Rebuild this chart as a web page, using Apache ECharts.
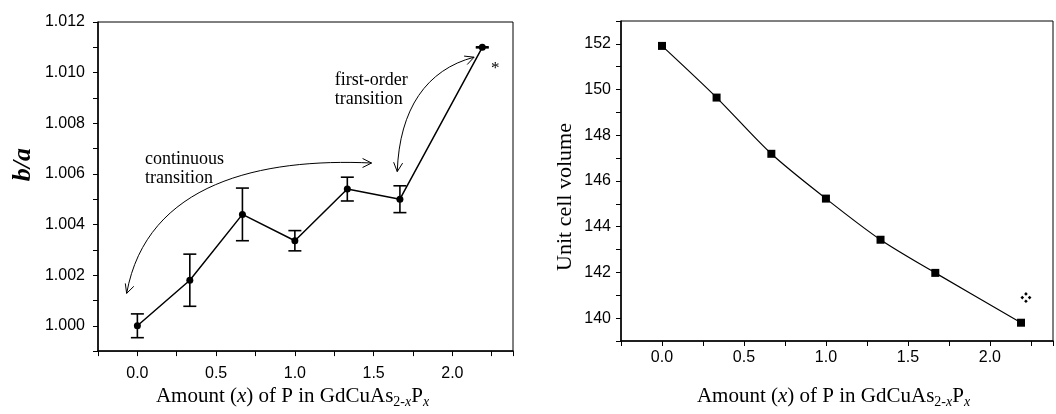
<!DOCTYPE html>
<html>
<head>
<meta charset="utf-8">
<script src="https://cdn.jsdelivr.net/npm/echarts@6/dist/echarts.min.js"></script>
<style>
  html, body { margin: 0; padding: 0; background: #fff; }
  #chart { width: 1056px; height: 414px; }
</style>
</head>
<body>
<div id="chart"></div>
<script>
// x = amount of P in GdCuAs(2-x)P(x)
var xVals = [0, 0.333, 0.667, 1.0, 1.333, 1.667, 2.19];
// b/a ratio and its error (half width)
var ratioVals = [1.0000, 1.0018, 1.0044, 1.00336, 1.0054, 1.0050, 1.0110];
var ratioErr = [0.00047, 0.00103, 0.00104, 0.0004, 0.00047, 0.00053, 0.00002];
// unit cell volume
var volumeVals = [151.91, 149.65, 147.19, 145.23, 143.43, 141.98, 139.80];
// curved double arrows in the left panel: start, control 1, control 2, end
var arrowCurves = [
    [-0.068, 1.00128, 0.059, 1.00566, 0.789, 1.00663, 1.487, 1.00643],
    [1.650, 1.00609, 1.664, 1.00857, 1.836, 1.01012, 2.138, 1.01061]
];

var serif = "'Liberation Serif', 'Times New Roman', serif";
var sans = "'Liberation Sans', Arial, sans-serif";
var clover = 'path://M6,0 L8,2 L6,4 L4,2 Z M2,4 L4,6 L2,8 L0,6 Z M10,4 L12,6 L10,8 L8,6 Z M6,8 L8,10 L6,12 L4,10 Z';

var ratioData = xVals.map(function (x, i) { return [x, ratioVals[i]]; });
var errData = xVals.map(function (x, i) { return [x, ratioVals[i] - ratioErr[i], ratioVals[i] + ratioErr[i]]; });
var volumeData = xVals.map(function (x, i) { return [x, volumeVals[i]]; });

// only label every other tick (major ticks)
function evenLabel(step, digits) {
    return function (v) {
        var k = Math.round(v / step);
        if (Math.abs(v / step - k) > 1e-6) return '';
        return k % 2 === 0 ? v.toFixed(digits) : '';
    };
}

var xName = '{n|Amount (}{i|x}{n|) of P in GdCuAs}{s|2-}{si|x}{n|P}{si|x}';
function xNameStyle(padding) {
    return {
        padding: padding,
        rich: {
            n: { fontFamily: serif, fontSize: 21, color: '#000', lineHeight: 23, verticalAlign: 'top' },
            i: { fontFamily: serif, fontSize: 21, fontStyle: 'italic', color: '#000', lineHeight: 23, verticalAlign: 'top' },
            s: { fontFamily: serif, fontSize: 14, color: '#000', lineHeight: 23, verticalAlign: 'bottom' },
            si: { fontFamily: serif, fontSize: 14, fontStyle: 'italic', color: '#000', lineHeight: 23, verticalAlign: 'bottom' }
        }
    };
}

function xAxisOf(gridIndex, nameGap, labelMargin, namePadding) {
    return {
        type: 'value', gridIndex: gridIndex,
        min: -0.25, max: 2.385, interval: 0.25,
        name: xName, nameLocation: 'middle', nameGap: nameGap,
        nameTextStyle: xNameStyle(namePadding),
        axisLine: { onZero: false, lineStyle: { color: '#000', width: 1.5 } },
        axisTick: { inside: false, length: 5, lineStyle: { color: '#000', width: 1 } },
        axisLabel: { margin: labelMargin, fontFamily: sans, fontSize: 16, color: '#000', formatter: evenLabel(0.25, 1) },
        splitLine: { show: false }
    };
}

// point on cubic bezier
function bez(p0, c1, c2, p3, t) {
    var u = 1 - t;
    return [
        u * u * u * p0[0] + 3 * u * u * t * c1[0] + 3 * u * t * t * c2[0] + t * t * t * p3[0],
        u * u * u * p0[1] + 3 * u * u * t * c1[1] + 3 * u * t * t * c2[1] + t * t * t * p3[1]
    ];
}
// open arrow head: tip at p, coming from q
function headPoints(p, q) {
    var L = 9, W = 4.5;
    var dx = p[0] - q[0], dy = p[1] - q[1];
    var len = Math.sqrt(dx * dx + dy * dy) || 1;
    var d = [dx / len, dy / len];
    var n = [-d[1], d[0]];
    return [
        [p[0] - L * d[0] + W * n[0], p[1] - L * d[1] + W * n[1]],
        [p[0], p[1]],
        [p[0] - L * d[0] - W * n[0], p[1] - L * d[1] - W * n[1]]
    ];
}

var chart = echarts.init(document.getElementById('chart'));

var option = {
    animation: false,
    backgroundColor: '#fff',
    grid: [
        { left: 98, top: 22, width: 415, height: 335, show: true, borderColor: '#000', borderWidth: 1 },
        { left: 621, top: 21, width: 436, height: 328, show: true, borderColor: '#000', borderWidth: 1 }
    ],
    xAxis: [
        xAxisOf(0, 33, 14, [0, 26, 0, 0]),
        xAxisOf(1, 45, 9, [0, 7, 0, 0])
    ],
    yAxis: [
        {
            type: 'value', gridIndex: 0,
            min: 0.999, max: 1.012, interval: 0.001,
            name: 'b/a', nameLocation: 'middle', nameGap: 62,
            nameTextStyle: { fontFamily: serif, fontSize: 26, fontStyle: 'italic', fontWeight: 'bold', color: '#000', padding: [0, 0, 0, 44] },
            axisLine: { onZero: false, lineStyle: { color: '#000', width: 1.5 } },
            axisTick: { inside: false, length: 5, lineStyle: { color: '#000', width: 1 } },
            axisLabel: { margin: 13, fontFamily: sans, fontSize: 16, color: '#000', formatter: evenLabel(0.001, 3) },
            splitLine: { show: false }
        },
        {
            type: 'value', gridIndex: 1,
            min: 139, max: 153, interval: 1,
            name: 'Unit cell volume', nameLocation: 'middle', nameGap: 45,
            nameTextStyle: { fontFamily: serif, fontSize: 22, color: '#000', padding: [0, 32, 0, 0] },
            axisLine: { onZero: false, lineStyle: { color: '#000', width: 1.5 } },
            axisTick: { inside: false, length: 5, lineStyle: { color: '#000', width: 1 } },
            axisLabel: { margin: 10, fontFamily: sans, fontSize: 16, color: '#000', formatter: evenLabel(1, 0) },
            splitLine: { show: false }
        }
    ],
    series: [
        {
            name: 'arrows', type: 'custom', xAxisIndex: 0, yAxisIndex: 0,
            silent: true,
            encode: { x: [0, 6], y: [1, 7] },
            data: arrowCurves,
            renderItem: function (params, api) {
                var p0 = api.coord([api.value(0), api.value(1)]);
                var c1 = api.coord([api.value(2), api.value(3)]);
                var c2 = api.coord([api.value(4), api.value(5)]);
                var p3 = api.coord([api.value(6), api.value(7)]);
                var st = { stroke: '#000', lineWidth: 1, fill: 'none' };
                return {
                    type: 'group',
                    children: [
                        { type: 'bezierCurve', shape: { x1: p0[0], y1: p0[1], x2: p3[0], y2: p3[1], cpx1: c1[0], cpy1: c1[1], cpx2: c2[0], cpy2: c2[1] }, style: st },
                        { type: 'polyline', shape: { points: headPoints(p0, bez(p0, c1, c2, p3, 0.15)) }, style: st },
                        { type: 'polyline', shape: { points: headPoints(p3, bez(p0, c1, c2, p3, 0.85)) }, style: st }
                    ]
                };
            }
        },
        {
            name: 'error', type: 'custom', xAxisIndex: 0, yAxisIndex: 0,
            silent: true,
            encode: { x: 0, y: [1, 2] },
            data: errData,
            renderItem: function (params, api) {
                var x = api.value(0);
                var lo = api.coord([x, api.value(1)]);
                var hi = api.coord([x, api.value(2)]);
                var hw = 6.5;
                var st = { stroke: '#000', lineWidth: 1.6 };
                return {
                    type: 'group',
                    children: [
                        { type: 'line', shape: { x1: hi[0], y1: hi[1], x2: lo[0], y2: lo[1] }, style: st },
                        { type: 'line', shape: { x1: hi[0] - hw, y1: hi[1], x2: hi[0] + hw, y2: hi[1] }, style: st },
                        { type: 'line', shape: { x1: lo[0] - hw, y1: lo[1], x2: lo[0] + hw, y2: lo[1] }, style: st }
                    ]
                };
            }
        },
        {
            name: 'b/a', type: 'line', xAxisIndex: 0, yAxisIndex: 0,
            data: ratioData,
            symbol: 'circle', symbolSize: 7,
            itemStyle: { color: '#000' },
            lineStyle: { color: '#000', width: 1.5 },
            markPoint: {
                silent: true,
                symbol: 'circle', symbolSize: 0,
                label: { show: true, position: 'right', distance: 0, color: '#000', fontFamily: serif, fontSize: 18, lineHeight: 19, align: 'left' },
                data: [
                    { coord: [0.048, 1.0062], label: { formatter: 'continuous\ntransition' } },
                    { coord: [1.254, 1.00934], label: { formatter: 'first-order\ntransition' } },
                    { coord: [2.245, 1.01015], label: { formatter: '*', fontSize: 17 } }
                ]
            }
        },
        {
            name: 'volume', type: 'line', xAxisIndex: 1, yAxisIndex: 1,
            data: volumeData,
            smooth: 0.3,
            symbol: 'rect', symbolSize: 8,
            itemStyle: { color: '#000' },
            lineStyle: { color: '#000', width: 1.2 },
            markPoint: {
                silent: true,
                symbol: clover, symbolSize: 11,
                itemStyle: { color: '#000' },
                label: { show: false },
                data: [{ coord: [2.22, 140.9] }]
            }
        }
    ]
};

chart.setOption(option);
</script>
</body>
</html>
